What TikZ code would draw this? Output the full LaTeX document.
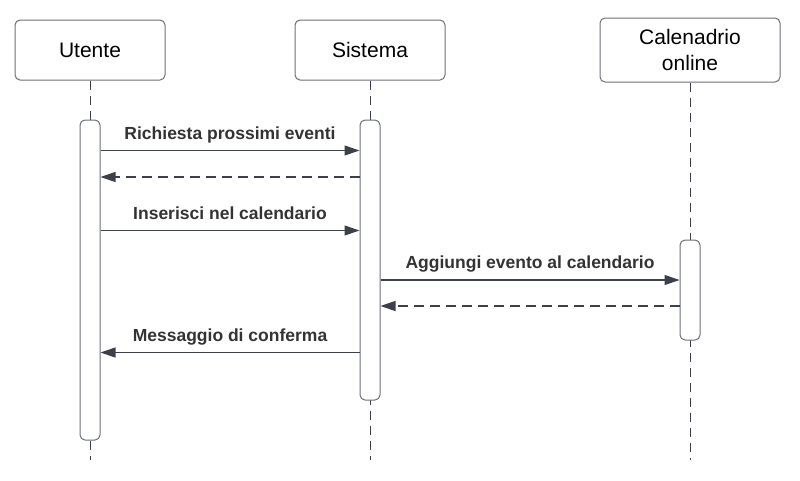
\documentclass[tikz,border=0pt]{standalone}
\usepackage{fontspec}
\setmainfont{Liberation Sans}
\usepackage{tikz}
\usetikzlibrary{calc}
\usetikzlibrary{arrows.meta}
\definecolor{ttuuww}{rgb}{0.23,0.25,0.29}
\definecolor{uuuuww}{rgb}{0.42,0.44,0.47}
\definecolor{zzzzzz}{rgb}{0.2,0.2,0.2}
\tikzset{
  actor/.style={draw=uuuuww, line width=1pt, rounded corners=5pt, fill=white, minimum width=150pt, minimum height=60pt, inner sep=0pt, align=center, font=\fontsize{21}{26}\selectfont},
  bar/.style={draw=uuuuww, line width=1pt, rounded corners=5pt, fill=white, minimum width=20pt, inner sep=0pt},
  lifeline/.style={draw=ttuuww, line width=0.9pt, dash pattern=on 9pt off 6pt},
  msg/.style={->, draw=ttuuww, line width=1.1pt},
  reply/.style={msg, dash pattern=on 10pt off 6pt},
  lbl/.style={font=\fontsize{17.5}{20}\selectfont\bfseries, text=zzzzzz, anchor=base, yshift=11.5pt}
}

\begin{document}
\begin{tikzpicture}[line cap=butt,line join=round,>={Triangle[length=15pt,width=10pt]},x=1pt,y=-1pt]
  \useasboundingbox (0,0) rectangle (800,480);
  % participants
  \node[actor] (u) at (90,50) {Utente};
  \node[actor] (s) at (370,50) {Sistema};
  \node[actor, minimum width=180pt, minimum height=64pt] (c) at (690,50) {Calenadrio\\online};
  \coordinate (end) at (0,460);
  \draw[lifeline] (u.south) -- (u.south |- end);
  \draw[lifeline] (s.south) -- (s.south |- end);
  \draw[lifeline] (c.south) -- (c.south |- end);
  % activation bars
  \node[bar, minimum height=320pt] (ub) at (90,280) {};
  \node[bar, minimum height=280pt] (sb) at (370,260) {};
  \node[bar, minimum height=100pt] (cb) at (690,290) {};
  % messages
  \coordinate (m1) at (0,150.5);
  \coordinate (m2) at (0,177);
  \coordinate (m3) at (0,230.5);
  \coordinate (m4) at (0,280);
  \coordinate (m5) at (0,306);
  \coordinate (m6) at (0,352.5);
  \draw[msg] (ub.east |- m1) -- (sb.west |- m1) node[midway, lbl] {Richiesta prossimi eventi};
  \draw[reply] (sb.west |- m2) -- (ub.east |- m2);
  \draw[msg] (ub.east |- m3) -- (sb.west |- m3) node[midway, lbl] {Inserisci nel calendario};
  \draw[msg] (sb.east |- m4) -- (cb.west |- m4) node[midway, lbl] {Aggiungi evento al calendario};
  \draw[reply] (cb.west |- m5) -- (sb.east |- m5);
  \draw[msg] (sb.west |- m6) -- (ub.east |- m6) node[midway, lbl] {Messaggio di conferma};
\end{tikzpicture}
\end{document}
